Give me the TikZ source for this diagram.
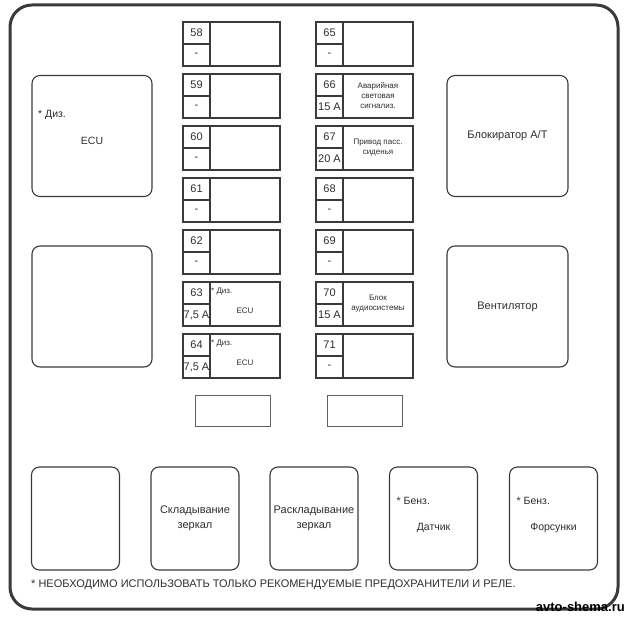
\documentclass[tikz,border=0pt]{standalone}
\usepackage{fontspec}
\setmainfont{Liberation Sans}
\usetikzlibrary{positioning}
\definecolor{linegray}{HTML}{3A3A3A}
\definecolor{textgray}{HTML}{2E2E2E}

\begin{document}
\begin{tikzpicture}[x=1pt, y=-1pt, text=textgray,
    cell/.style={draw=linegray, line width=1.1pt, outer sep=0pt, inner sep=0pt, minimum width=27, minimum height=22, font=\fontsize{11}{12}\selectfont},
    fbody/.style={draw=linegray, line width=1.1pt, outer sep=0pt, inner sep=0pt, minimum width=70, minimum height=44, align=center, font=\fontsize{8}{10}\selectfont},
    relay/.style={draw=linegray, line width=1.1pt, rounded corners=8pt, outer sep=0pt, minimum width=120, minimum height=121, align=center, font=\fontsize{11}{15}\selectfont},
    lowrelay/.style={relay, minimum width=88, minimum height=103},
    spare/.style={draw=linegray!80, line width=1pt, minimum width=75, minimum height=31},
    small/.style={inner sep=0pt, font=\fontsize{8}{10}\selectfont},
    mid/.style={inner sep=0pt, font=\fontsize{10.5}{12}\selectfont}]

    \useasboundingbox (0,0) rectangle (629,617);

    % Frame
    \draw[line width=3pt, draw=linegray, rounded corners=22pt] (10,5) rectangle (618,609);

    % Fuses 58-64
    \node[cell] (c58) at (196.5,33) {58};
    \node[cell, below=0pt of c58] (a58) {-};
    \node[fbody, anchor=north west] (b58) at (c58.north east) {};

    \node[cell] (c59) at (196.5,85) {59};
    \node[cell, below=0pt of c59] (a59) {-};
    \node[fbody, anchor=north west] (b59) at (c59.north east) {};

    \node[cell] (c60) at (196.5,137) {60};
    \node[cell, below=0pt of c60] (a60) {-};
    \node[fbody, anchor=north west] (b60) at (c60.north east) {};

    \node[cell] (c61) at (196.5,189) {61};
    \node[cell, below=0pt of c61] (a61) {-};
    \node[fbody, anchor=north west] (b61) at (c61.north east) {};

    \node[cell] (c62) at (196.5,241) {62};
    \node[cell, below=0pt of c62] (a62) {-};
    \node[fbody, anchor=north west] (b62) at (c62.north east) {};

    \node[cell] (c63) at (196.5,293) {63};
    \node[cell, below=0pt of c63] (a63) {7,5 A};
    \node[fbody, anchor=north west] (b63) at (c63.north east) {};
    \node[small, anchor=north west] (d63) at ([xshift=1pt, yshift=-6pt]b63.north west) {* Диз.};
    \node[small] (e63) at ([yshift=-7pt]b63.center) {ECU};

    \node[cell] (c64) at (196.5,345) {64};
    \node[cell, below=0pt of c64] (a64) {7,5 A};
    \node[fbody, anchor=north west] (b64) at (c64.north east) {};
    \node[small, anchor=north west] (d64) at ([xshift=1pt, yshift=-6pt]b64.north west) {* Диз.};
    \node[small] (e64) at ([yshift=-7pt]b64.center) {ECU};

    % Fuses 65-71
    \node[cell] (c65) at (329.5,33) {65};
    \node[cell, below=0pt of c65] (a65) {-};
    \node[fbody, anchor=north west] (b65) at (c65.north east) {};

    \node[cell] (c66) at (329.5,85) {66};
    \node[cell, below=0pt of c66] (a66) {15 A};
    \node[fbody, anchor=north west] (b66) at (c66.north east) {Аварийная\\световая\\сигнализ.};

    \node[cell] (c67) at (329.5,137) {67};
    \node[cell, below=0pt of c67] (a67) {20 A};
    \node[fbody, anchor=north west] (b67) at (c67.north east) {Привод пасс.\\сиденья};

    \node[cell] (c68) at (329.5,189) {68};
    \node[cell, below=0pt of c68] (a68) {-};
    \node[fbody, anchor=north west] (b68) at (c68.north east) {};

    \node[cell] (c69) at (329.5,241) {69};
    \node[cell, below=0pt of c69] (a69) {-};
    \node[fbody, anchor=north west] (b69) at (c69.north east) {};

    \node[cell] (c70) at (329.5,293) {70};
    \node[cell, below=0pt of c70] (a70) {15 A};
    \node[fbody, anchor=north west] (b70) at (c70.north east) {Блок\\аудиосистемы};

    \node[cell] (c71) at (329.5,345) {71};
    \node[cell, below=0pt of c71] (a71) {-};
    \node[fbody, anchor=north west] (b71) at (c71.north east) {};

    % Spare slots
    \node[spare] (s1) at (232.5,410.5) {};
    \node[spare] (s2) at (364.5,410.5) {};

    % Big relays
    \node[relay] (ecu) at (92,136) {};
    \node[mid, anchor=west] (ecud) at ([xshift=6pt, yshift=21pt]ecu.west) {* Диз.};
    \node[mid] (ecut) at ([yshift=-5pt]ecu.center) {ECU};
    \node[relay] (r2) at (92,306.5) {};
    \node[relay, minimum width=121] (lock) at (507.5,136) {Блокиратор А/Т};
    \node[relay, minimum width=121] (fan) at (507.5,306.5) {Вентилятор};

    % Bottom relays
    \node[lowrelay] (l1) at (75.5,518.5) {};
    \node[lowrelay] (l2) at (195,518.5) {Складывание\\зеркал};
    \node[lowrelay] (l3) at (314,518.5) {Раскладывание\\зеркал};
    \node[lowrelay] (l4) at (433.5,518.5) {};
    \node[mid, anchor=west] (l4d) at ([xshift=7pt, yshift=18pt]l4.west) {* Бенз.};
    \node[mid] (l4t) at ([yshift=-9pt]l4.center) {Датчик};
    \node[lowrelay] (l5) at (553.5,518.5) {};
    \node[mid, anchor=west] (l5d) at ([xshift=7pt, yshift=18pt]l5.west) {* Бенз.};
    \node[mid] (l5t) at ([yshift=-9pt]l5.center) {Форсунки};

    % Note and mark
    \node[anchor=west, inner sep=0pt, font=\fontsize{11}{12}\selectfont] (note) at (31,585) {* НЕОБХОДИМО ИСПОЛЬЗОВАТЬ ТОЛЬКО РЕКОМЕНДУЕМЫЕ ПРЕДОХРАНИТЕЛИ И РЕЛЕ.};
    \node[anchor=south east, inner sep=0pt, text=black, font=\bfseries\fontsize{13}{14}\selectfont] (mark) at (625,612) {avto-shema.ru};
\end{tikzpicture}
\end{document}
